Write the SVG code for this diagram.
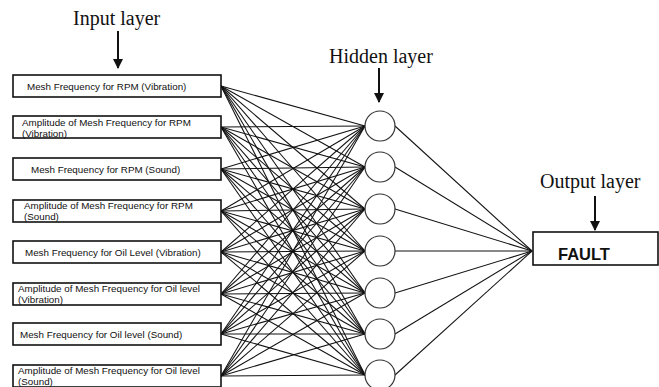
<svg xmlns="http://www.w3.org/2000/svg" width="659" height="387" viewBox="0 0 659 387">
<defs>
<style>
.title{font-family:"Liberation Serif","Times New Roman",serif;font-size:20px;fill:#111}
.lbl{font-family:"Liberation Sans",Arial,sans-serif;font-size:9.8px;fill:#111}
.box{fill:#fff;stroke:#111;stroke-width:1.6}
.node{fill:#fff;stroke:#333;stroke-width:1.2}
.conn line{stroke:#111;stroke-width:1.05}
.arr{stroke:#111;stroke-width:2}
.fault{font-family:"Liberation Sans",Arial,sans-serif;font-size:16.5px;font-weight:bold;fill:#111}
</style>
<marker id="ah" viewBox="0 0 10 10" refX="9" refY="5" markerWidth="5" markerHeight="5" orient="auto" markerUnits="strokeWidth">
<path d="M0,0 L10,5 L0,10 z" fill="#111"/>
</marker>
</defs>
<rect width="659" height="387" fill="#fff"/>

<g id="connectors" class="conn">
<line x1="221" y1="86" x2="365" y2="126"/><line x1="221" y1="86" x2="365" y2="167"/><line x1="221" y1="86" x2="365" y2="209"/><line x1="221" y1="86" x2="365" y2="251"/><line x1="221" y1="86" x2="365" y2="293"/><line x1="221" y1="86" x2="365" y2="334"/><line x1="221" y1="86" x2="365" y2="375"/>
<line x1="221" y1="127" x2="365" y2="126"/><line x1="221" y1="127" x2="365" y2="167"/><line x1="221" y1="127" x2="365" y2="209"/><line x1="221" y1="127" x2="365" y2="251"/><line x1="221" y1="127" x2="365" y2="293"/><line x1="221" y1="127" x2="365" y2="334"/><line x1="221" y1="127" x2="365" y2="375"/>
<line x1="221" y1="169" x2="365" y2="126"/><line x1="221" y1="169" x2="365" y2="167"/><line x1="221" y1="169" x2="365" y2="209"/><line x1="221" y1="169" x2="365" y2="251"/><line x1="221" y1="169" x2="365" y2="293"/><line x1="221" y1="169" x2="365" y2="334"/><line x1="221" y1="169" x2="365" y2="375"/>
<line x1="221" y1="211" x2="365" y2="126"/><line x1="221" y1="211" x2="365" y2="167"/><line x1="221" y1="211" x2="365" y2="209"/><line x1="221" y1="211" x2="365" y2="251"/><line x1="221" y1="211" x2="365" y2="293"/><line x1="221" y1="211" x2="365" y2="334"/><line x1="221" y1="211" x2="365" y2="375"/>
<line x1="221" y1="252" x2="365" y2="126"/><line x1="221" y1="252" x2="365" y2="167"/><line x1="221" y1="252" x2="365" y2="209"/><line x1="221" y1="252" x2="365" y2="251"/><line x1="221" y1="252" x2="365" y2="293"/><line x1="221" y1="252" x2="365" y2="334"/><line x1="221" y1="252" x2="365" y2="375"/>
<line x1="221" y1="294" x2="365" y2="126"/><line x1="221" y1="294" x2="365" y2="167"/><line x1="221" y1="294" x2="365" y2="209"/><line x1="221" y1="294" x2="365" y2="251"/><line x1="221" y1="294" x2="365" y2="293"/><line x1="221" y1="294" x2="365" y2="334"/><line x1="221" y1="294" x2="365" y2="375"/>
<line x1="221" y1="334" x2="365" y2="126"/><line x1="221" y1="334" x2="365" y2="167"/><line x1="221" y1="334" x2="365" y2="209"/><line x1="221" y1="334" x2="365" y2="251"/><line x1="221" y1="334" x2="365" y2="293"/><line x1="221" y1="334" x2="365" y2="334"/><line x1="221" y1="334" x2="365" y2="375"/>
<line x1="221" y1="376" x2="365" y2="126"/><line x1="221" y1="376" x2="365" y2="167"/><line x1="221" y1="376" x2="365" y2="209"/><line x1="221" y1="376" x2="365" y2="251"/><line x1="221" y1="376" x2="365" y2="293"/><line x1="221" y1="376" x2="365" y2="334"/><line x1="221" y1="376" x2="365" y2="375"/>
<line x1="395" y1="126" x2="532" y2="251"/><line x1="395" y1="167" x2="532" y2="251"/><line x1="395" y1="209" x2="532" y2="251"/><line x1="395" y1="251" x2="532" y2="251"/><line x1="395" y1="293" x2="532" y2="251"/><line x1="395" y1="334" x2="532" y2="251"/><line x1="395" y1="375" x2="532" y2="251"/>
</g>

<g id="input-layer-label">
<text class="title" x="73" y="25">Input layer</text>
<line class="arr" x1="118" y1="31" x2="118" y2="68" marker-end="url(#ah)"/>
</g>
<g id="hidden-layer-label">
<text class="title" x="329" y="63">Hidden layer</text>
<line class="arr" x1="379" y1="68" x2="379" y2="102" marker-end="url(#ah)"/>
</g>
<g id="output-layer-label">
<text class="title" x="540" y="188">Output layer</text>
<line class="arr" x1="595" y1="196" x2="595" y2="230" marker-end="url(#ah)"/>
</g>

<g id="in1"><rect class="box" x="13" y="75" width="208" height="22"/><text class="lbl" x="27" y="89.5">Mesh Frequency for RPM (Vibration)</text></g>
<g id="in2"><rect class="box" x="13" y="116" width="208" height="22"/><text class="lbl" x="22" y="126">Amplitude of Mesh Frequency for RPM</text><text class="lbl" x="22" y="137">(Vibration)</text></g>
<g id="in3"><rect class="box" x="13" y="158" width="208" height="22"/><text class="lbl" x="31" y="172.5">Mesh Frequency for RPM (Sound)</text></g>
<g id="in4"><rect class="box" x="13" y="200" width="208" height="22"/><text class="lbl" x="24" y="209">Amplitude of Mesh Frequency for RPM</text><text class="lbl" x="24" y="220">(Sound)</text></g>
<g id="in5"><rect class="box" x="13" y="241" width="208" height="22"/><text class="lbl" x="25" y="255.5">Mesh Frequency for Oil Level (Vibration)</text></g>
<g id="in6"><rect class="box" x="13" y="283" width="208" height="22"/><text class="lbl" x="18" y="292">Amplitude of Mesh Frequency for Oil level</text><text class="lbl" x="18" y="303">(Vibration)</text></g>
<g id="in7"><rect class="box" x="13" y="323" width="208" height="22"/><text class="lbl" x="20" y="337.5">Mesh Frequency for Oil level (Sound)</text></g>
<g id="in8"><rect class="box" x="13" y="365" width="208" height="22"/><text class="lbl" x="18" y="374">Amplitude of Mesh Frequency for Oil level</text><text class="lbl" x="18" y="385">(Sound)</text></g>

<g id="h1"><circle class="node" cx="380" cy="126" r="15"/></g>
<g id="h2"><circle class="node" cx="380" cy="167" r="15"/></g>
<g id="h3"><circle class="node" cx="380" cy="209" r="15"/></g>
<g id="h4"><circle class="node" cx="380" cy="251" r="15"/></g>
<g id="h5"><circle class="node" cx="380" cy="293" r="15"/></g>
<g id="h6"><circle class="node" cx="380" cy="334" r="15"/></g>
<g id="h7"><circle class="node" cx="380" cy="375" r="15"/></g>

<g id="fault"><rect class="box" x="533" y="232" width="125" height="33" stroke-width="1.2"/><text class="fault" x="558" y="260">FAULT</text></g>
</svg>
